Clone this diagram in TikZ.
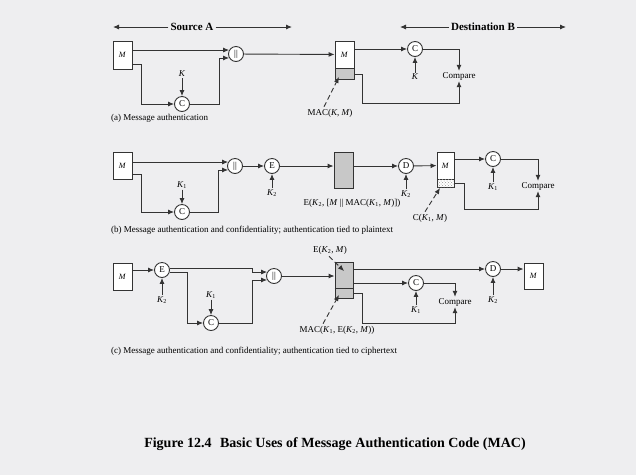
\documentclass[tikz,border=0pt]{standalone}
\usepackage{fontspec}
\setmainfont{Liberation Serif}
\usetikzlibrary{arrows.meta,calc,patterns}
\definecolor{bg}{HTML}{EEEEF0}
\definecolor{ln}{HTML}{333333}
\definecolor{gr}{HTML}{C8C8C8}
\newcommand{\Kone}{\textit{K}\textsubscript{1}}
\newcommand{\Ktwo}{\textit{K}\textsubscript{2}}
\newcommand{\myM}{\textit{M}}
\begin{document}
\begin{tikzpicture}[x=1pt,y=-1pt,
 box/.style={draw=ln,fill=white,line width=0.9pt,minimum width=19pt,inner sep=0pt,font=\fontsize{8}{8}\selectfont},
 gbox/.style={box,fill=gr},
 hbox/.style={box,postaction={pattern=crosshatch dots,pattern color=gray!80}},
 op/.style={circle,draw=ln,fill=white,line width=0.9pt,minimum size=15pt,inner sep=0pt,font=\fontsize{9}{9}\selectfont},
 lbl/.style={inner sep=1pt,font=\fontsize{9}{10}\selectfont},
 hdr/.style={fill=bg,inner sep=2pt,font=\bfseries\fontsize{11}{12}\selectfont},
 conn/.style={draw=ln,line width=0.9pt},
 arr/.style={conn,-{Latex[length=6pt,width=5pt]}},
 darr/.style={arr,dash pattern=on 5pt off 3pt}]
\fill[bg] (0,0) rectangle (636,475);

% headers
\node[hdr] (src) at (192,27) {Source A};
\coordinate (srcL) at (113,27); \coordinate (srcR) at (292,27);
\draw[arr] (src) -- (srcL); \draw[arr] (src) -- (srcR);
\node[hdr] (dst) at (483,27) {Destination B};
\coordinate (dstL) at (400,27); \coordinate (dstR) at (566,27);
\draw[arr] (dst) -- (dstL); \draw[arr] (dst) -- (dstR);

% ---------- (a)
\node[box,minimum height=28pt] (aM) at (122.5,55) {\myM};
\node[op] (aP) at (236,54) {||};
\node[op] (aC) at (182,104) {C};
\node[lbl] (aK) at (182,74) {\textit{K}};
\draw[arr] (aM.east |- aP.150) -- (aP.150);
\coordinate (aL) at (141,104);
\draw[arr] ($(aM.east)+(0,9)$) -| (aL) -- (aC);
\draw[arr] (aK) -- (aC);
\draw[arr] (aC) -| ([xshift=-10pt]aP.210) -- (aP.210);
\node[box,minimum height=27pt] (aDM) at (344.5,54.5) {\myM};
\node[gbox,minimum height=11pt,anchor=north] (aDMac) at (aDM.south) {};
\draw[arr] (aP) -- (aDM);
\node[op] (aC2) at (415,49) {C};
\node[lbl] (aK2) at (415,77) {\textit{K}};
\node[lbl] (aCmp) at (459,76) {Compare};
\draw[arr] (aDM.east |- aC2) -- (aC2);
\draw[arr] (aK2) -- (aC2);
\draw[arr] (aC2) -| (aCmp);
\coordinate (aB) at (362,103);
\draw[arr] (aDMac.east) -| (aB) -| (aCmp);
\node[lbl] (aMacL) at (330,113) {MAC(\textit{K}, \myM)};
\coordinate (aMe) at (339,77);
\draw[darr] ($(aMacL.north)+(-6,-1)$) -- (aMe);
\node[lbl,anchor=west] (aCap) at (110,118) {(a) Message authentication};

% ---------- (b)
\node[box,minimum height=27pt] (bM) at (122.5,165.5) {\myM};
\node[op] (bP) at (235,166) {||};
\node[op] (bC) at (182,212) {C};
\node[lbl] (bK1) at (182,185) {\Kone};
\draw[arr] (bM.east |- bP.150) -- (bP.150);
\coordinate (bL) at (141,212);
\draw[arr] ($(bM.east)+(0,9)$) -| (bL) -- (bC);
\draw[arr] (bK1) -- (bC);
\draw[arr] (bC) -| ([xshift=-10pt]bP.210) -- (bP.210);
\node[op] (bE) at (272,166) {E};
\node[lbl] (bK2) at (272,193) {\Ktwo};
\draw[arr] (bP) -- (bE);
\draw[arr] (bK2) -- (bE);
\node[gbox,minimum height=36pt] (bG) at (343.5,170) {};
\draw[arr] (bE) -- (bG.west |- bE);
\node[lbl] (bGL) at (352,203) {E(\Ktwo, [\myM\ \textbar\textbar\ MAC(\Kone, \myM)])};
\node[op] (bD) at (406,166) {D};
\node[lbl] (bK2b) at (406,194) {\Ktwo};
\draw[arr] (bG.east |- bD) -- (bD);
\draw[arr] (bK2b) -- (bD);
\node[box,minimum width=17pt,minimum height=27pt] (bDM) at (445.5,165.5) {\myM};
\node[hbox,minimum width=17pt,minimum height=8pt,anchor=north] (bDH) at (bDM.south) {};
\draw[arr] (bD) -- (bDM);
\node[op] (bC2) at (493,159) {C};
\node[lbl] (bK1b) at (493,187) {\Kone};
\node[lbl] (bCmp) at (538,186) {Compare};
\draw[arr] (bDM.east |- bC2) -- (bC2);
\draw[arr] (bK1b) -- (bC2);
\draw[arr] (bC2) -| (bCmp);
\coordinate (bB) at (464,209);
\draw[arr] (bDH.east) -| (bB) -| (bCmp);
\node[lbl] (bCL) at (430,218) {C(\Kone, \myM)};
\coordinate (bCe) at (440,188);
\draw[darr] ($(bCL.north)+(-5,-1)$) -- (bCe);
\node[lbl,anchor=west] (bCap) at (110,230) {(b) Message authentication and confidentiality; authentication tied to plaintext};

% ---------- (c)
\node[box,minimum height=27pt] (cM) at (122.5,276.5) {\myM};
\node[op] (cE) at (162,270) {E};
\node[lbl] (cK2) at (162,300) {\Ktwo};
\draw[arr] (cM.east |- cE) -- (cE);
\draw[arr] (cK2) -- (cE);
\node[op] (cP) at (274,276) {||};
\node[op] (cC) at (211,323) {C};
\node[lbl] (cK1) at (211,295) {\Kone};
\draw[arr] (cE.15) -| ([xshift=-15pt]cP.150) -- (cP.150);
\coordinate (cL) at (187,323);
\draw[arr] (cE.-15) -| (cL) -- (cC);
\draw[arr] (cK1) -- (cC);
\draw[arr] (cC) -| ([xshift=-15pt]cP.210) -- (cP.210);
\node[gbox,minimum width=18pt,minimum height=26pt] (cG) at (344,275) {};
\node[gbox,minimum width=18pt,minimum height=10pt,anchor=north] (cGL) at (cG.south) {};
\draw[line width=1.4pt,ln] (cG.south west) -- (cG.south east);
\draw[arr] (cP) -- (cG.west |- cP);
\node[op] (cD) at (493,269) {D};
\node[lbl] (cK2b) at (493,300) {\Ktwo};
\node[op] (cC2) at (416,283) {C};
\node[lbl] (cK1b) at (416,310) {\Kone};
\node[lbl] (cCmp) at (455,302) {Compare};
\draw[arr] (cG.east |- cD) -- (cD);
\draw[arr] (cG.east |- cC2) -- (cC2);
\draw[arr] (cK1b) -- (cC2);
\draw[arr] (cK2b) -- (cD);
\draw[arr] (cC2) -| (cCmp);
\coordinate (cB) at (362,323);
\draw[arr] (cGL.east) -| (cB) -| (cCmp);
\node[box,minimum height=26pt] (cM2) at (533.5,276) {\myM};
\draw[arr] (cD) -- (cM2.west |- cD);
\node[lbl] (cEL) at (330,250) {E(\Ktwo, \myM)};
\coordinate (cEe) at (344,271);
\draw[darr] ($(cEL.south)+(-1,1)$) -- (cEe);
\node[lbl] (cML) at (337,330) {MAC(\Kone, E(\Ktwo, \myM))};
\coordinate (cMe) at (339,295);
\draw[darr] ($(cML.north)+(-14,-1)$) -- (cMe);
\node[lbl,anchor=west] (cCap) at (110,351) {(c) Message authentication and confidentiality; authentication tied to ciphertext};

% title
\node[font=\bfseries\fontsize{14}{16}\selectfont] (ttl) at (335,444) {Figure 12.4\hspace{0.6em}Basic Uses of Message Authentication Code (MAC)};
\end{tikzpicture}
\end{document}
